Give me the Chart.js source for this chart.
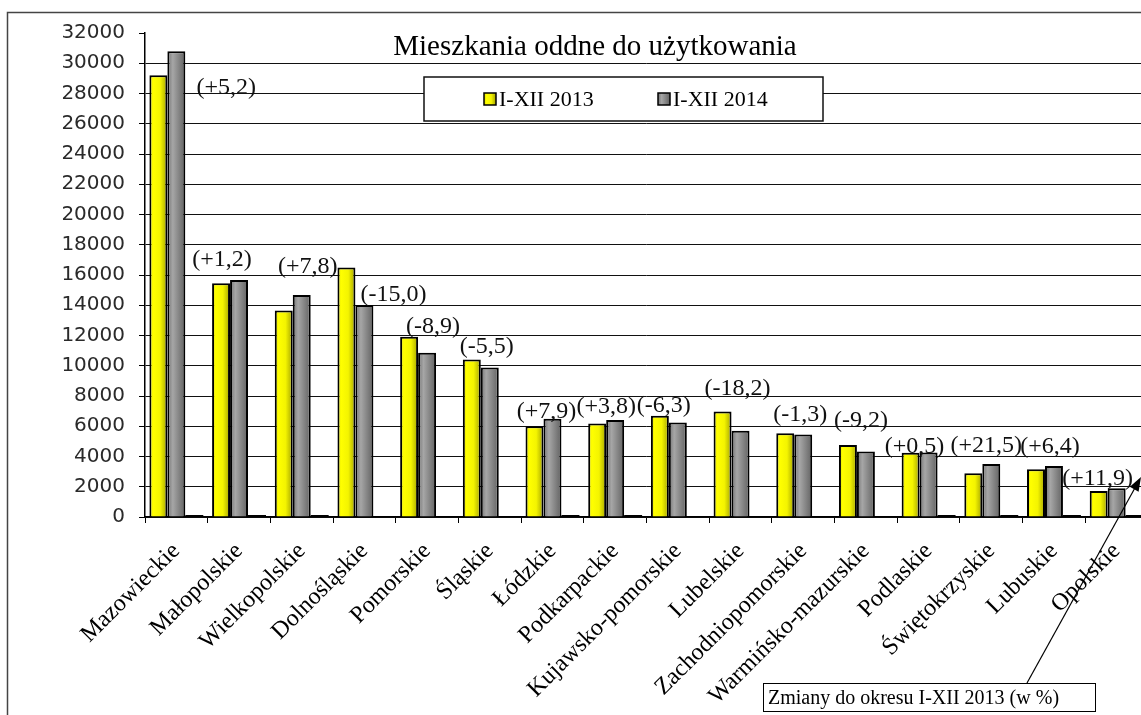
<!DOCTYPE html>
<html>
<head>
<meta charset="utf-8">
<script src="https://cdn.jsdelivr.net/npm/chart.js@4/dist/chart.umd.min.js"></script>
<style>
  html, body { margin: 0; padding: 0; background: #fff; overflow: hidden; }
  #wrap { position: relative; width: 1141px; height: 715px; overflow: hidden; }
  canvas { display: block; }
</style>
</head>
<body>
<div id="wrap"><canvas id="flats-chart" width="1160" height="715"></canvas></div>
<script>
// Mieszkania oddane do użytkowania, I-XII 2013 vs I-XII 2014

var categories = ['Mazowieckie', 'Małopolskie', 'Wielkopolskie', 'Dolnośląskie', 'Pomorskie',
  'Śląskie', 'Łódzkie', 'Podkarpackie', 'Kujawsko-pomorskie', 'Lubelskie',
  'Zachodniopomorskie', 'Warmińsko-mazurskie', 'Podlaskie', 'Świętokrzyskie', 'Lubuskie', 'Opolskie'];
var flats2013 = [29200, 15450, 13650, 16500, 11920, 10420, 6000, 6180, 6700, 6970, 5530, 4760, 4250, 2890, 3150, 1720];
var flats2014 = [30800, 15670, 14680, 14020, 10860, 9880, 6500, 6420, 6240, 5710, 5450, 4330, 4270, 3500, 3370, 1900];
var pctChange = [5.2, 1.2, 7.8, -15.0, -8.9, -5.5, 7.9, 3.8, -6.3, -18.2, -1.3, -9.2, 0.5, 21.5, 6.4, 11.9];
var seriesNames = ['I-XII 2013', 'I-XII 2014', 'Zmiany'];
var yMax = 32000;
var yStep = 2000;

// hand-placed label nudges (px) like in the original sheet
var labelNudge = [[50, 57], [-17, 0], [6, -8], [29, 47], [6, 10], [-3, 7], [-6, 13], [-9, 7],
  [-14, 10], [-3, -3], [-3, 1], [-5, -4], [-14, 14], [-5, 2], [-4, 1], [-19, 10]];

var SERIF = '"Liberation Serif", "Times New Roman", serif';
var SANS = '"DejaVu Sans", Verdana, sans-serif';

function fmtPct(v) {
  return '(' + (v < 0 ? '-' : '+') + Math.abs(v).toFixed(1).replace('.', ',') + ')';
}

function barGradient(ctx, x0, x1, idx) {
  var g = ctx.createLinearGradient(x0, 0, x1, 0);
  if (idx === 0) {
    g.addColorStop(0, '#d8d800');
    g.addColorStop(0.2, '#ffff00');
    g.addColorStop(0.6, '#f4f400');
    g.addColorStop(1, '#a4a400');
  } else {
    g.addColorStop(0, '#747474');
    g.addColorStop(0.3, '#a6a6a6');
    g.addColorStop(1, '#626262');
  }
  return g;
}

var gradientPlugin = {
  id: 'gradients',
  beforeDatasetsDraw: function (chart) {
    [0, 1].forEach(function (di) {
      chart.getDatasetMeta(di).data.forEach(function (el) {
        el.options.backgroundColor = barGradient(chart.ctx, el.x - el.width / 2, el.x + el.width / 2, di);
      });
    });
  }
};

var decorPlugin = {
  id: 'decor',
  beforeDraw: function (chart) {
    var c = chart.ctx;
    c.save();
    c.strokeStyle = '#444';
    c.lineWidth = 1.5;
    c.strokeRect(7.5, 12.5, 2000, 2000);
    c.restore();
  },
  afterDatasetsDraw: function (chart) {
    var c = chart.ctx;
    var xs = chart.scales.x, ys = chart.scales.y;
    c.save();

    // title
    c.fillStyle = '#000';
    c.font = '29px ' + SERIF;
    c.textAlign = 'center';
    c.textBaseline = 'alphabetic';
    c.fillText('Mieszkania oddne do użytkowania', 595, 55);

    // legend box
    c.fillStyle = '#fff';
    c.fillRect(424, 77, 399, 44);
    c.strokeStyle = '#111';
    c.lineWidth = 1.5;
    c.strokeRect(424, 77, 399, 44);
    var lx = [484, 658];
    c.font = '22px ' + SERIF;
    c.textAlign = 'left';
    [0, 1].forEach(function (i) {
      c.fillStyle = barGradient(c, lx[i], lx[i] + 12, i);
      c.fillRect(lx[i], 93, 12, 12);
      c.strokeStyle = '#000';
      c.lineWidth = 1.5;
      c.strokeRect(lx[i], 93, 12, 12);
      c.fillStyle = '#000';
      c.fillText(chart.data.datasets[i].label, lx[i] + 15, 106);
    });

    // change labels
    c.font = '24px ' + SERIF;
    c.textAlign = 'center';
    c.textBaseline = 'middle';
    c.fillStyle = '#111';
    pctChange.forEach(function (v, i) {
      var top = ys.getPixelForValue(Math.max(flats2013[i], flats2014[i]));
      var x = xs.getPixelForValue(i) + labelNudge[i][0];
      var y = top - 20 + labelNudge[i][1];
      c.fillText(fmtPct(v), x, y);
    });

    // note box with arrow
    c.strokeStyle = '#000';
    c.lineWidth = 1;
    c.fillStyle = '#fff';
    c.fillRect(763.5, 683.5, 332, 28);
    c.strokeRect(763.5, 683.5, 332, 28);
    c.fillStyle = '#000';
    c.font = '20px ' + SERIF;
    c.textAlign = 'left';
    c.textBaseline = 'alphabetic';
    c.fillText('Zmiany do okresu I-XII 2013 (w %)', 768, 704);

    var tipX = 1141, tipY = 477, fromX = 1027, fromY = 683;
    var ang = Math.atan2(tipY - fromY, tipX - fromX);
    c.lineWidth = 1.2;
    c.beginPath();
    c.moveTo(fromX, fromY);
    c.lineTo(tipX - 10 * Math.cos(ang), tipY - 10 * Math.sin(ang));
    c.stroke();
    c.beginPath();
    c.moveTo(tipX, tipY);
    c.lineTo(tipX - 14 * Math.cos(ang) + 5 * Math.sin(ang), tipY - 14 * Math.sin(ang) - 5 * Math.cos(ang));
    c.lineTo(tipX - 14 * Math.cos(ang) - 5 * Math.sin(ang), tipY - 14 * Math.sin(ang) + 5 * Math.cos(ang));
    c.closePath();
    c.fill();
    c.restore();
  }
};

function initChart() {
  var ctx = document.getElementById('flats-chart');
  return new Chart(ctx, {
    type: 'bar',
    data: {
      labels: categories,
      datasets: [{
        label: seriesNames[0],
        data: flats2013,
        backgroundColor: function () { return '#ffff00'; },
        borderColor: '#000',
        borderWidth: 2
      }, {
        label: seriesNames[1],
        data: flats2014,
        backgroundColor: function () { return '#8a8a8a'; },
        borderColor: '#000',
        borderWidth: 2
      }, {
        label: seriesNames[2],
        data: pctChange,
        backgroundColor: '#000',
        borderWidth: 0,
        minBarLength: 2
      }]
    },
    options: {
      responsive: false,
      animation: false,
      events: [],
      datasets: { bar: { categoryPercentage: 0.86, barPercentage: 1.0 } },
      layout: { padding: { left: 0, top: 33, right: 12, bottom: 0 } },
      plugins: { legend: { display: false }, title: { display: false }, tooltip: { enabled: false } },
      scales: {
        x: {
          grid: { drawOnChartArea: false, color: '#000', tickLength: 6, offset: true },
          border: { color: '#000', width: 1.5 },
          ticks: {
            autoSkip: false, minRotation: 45, maxRotation: 45, padding: 14,
            color: '#000', font: { family: SERIF, size: 24 }
          },
          afterFit: function (s) { s.height = 198; }
        },
        y: {
          min: 0,
          max: yMax,
          grid: {
            color: function (c) { return c.tick && c.tick.value === yMax ? 'rgba(0,0,0,0)' : '#111'; },
            tickColor: '#000',
            tickLength: 6,
            lineWidth: 1
          },
          border: { color: '#000', width: 1.5 },
          ticks: {
            stepSize: yStep, autoSkip: false, padding: 14,
            color: '#2a2a2a', font: { family: SANS, size: 20 },
            callback: function (v) { return String(v); }
          },
          afterFit: function (s) { s.width = 145; }
        }
      }
    },
    plugins: [gradientPlugin, decorPlugin]
  });
}

initChart();
</script>
</body>
</html>
